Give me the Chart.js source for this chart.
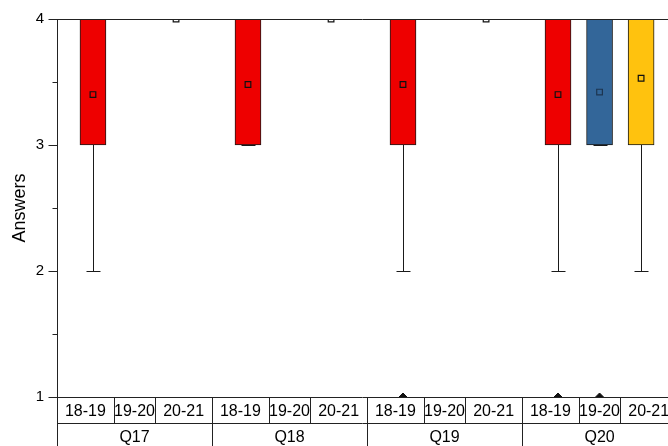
<!DOCTYPE html>
<html>
<head>
<meta charset="utf-8">
<script src="https://cdn.jsdelivr.net/npm/chart.js@4"></script>
<style>
  body { margin: 0; background: #fff; overflow: hidden; }
  #wrap { width: 668px; height: 446px; position: relative; }
</style>
</head>
<body>
<div id="wrap"><canvas id="myChart"></canvas></div>
<script>
// categories
const groups = ["Q17", "Q18", "Q19", "Q20"];
const years = ["18-19", "19-20", "20-21"];

// box stats, one row per year, one value per question (null = no data)
const lowerWhisker = [[2, 3, 2, 2], [null, null, null, 3], [4, 4, 4, 2]];
const q1 = [[3, 3, 3, 3], [null, null, null, 3], [4, 4, 4, 3]];
const median = [[4, 4, 4, 4], [null, null, null, 4], [4, 4, 4, 4]];
const q3 = [[4, 4, 4, 4], [null, null, null, 4], [4, 4, 4, 4]];
const upperWhisker = [[4, 4, 4, 4], [null, null, null, 4], [4, 4, 4, 4]];
const means = [[3.40, 3.48, 3.48, 3.40], [null, null, null, 3.42], [4, 4, 4, 3.53]];
const outliers = [[null, null, 1, 1], [null, null, null, 1], [null, null, null, null]];

// y ticks
const yTicks = [1, 2, 3, 4];
const yMinorTicks = [1.5, 2.5, 3.5];

const colors = ["#ee0000", "#336699", "#ffc20e"];
const spread = 0.268; // distance between boxes inside a group, in group units
const boxWidth = 26;

function xPos(yearIdx, groupIdx) {
  return groupIdx + (yearIdx - 1) * spread;
}

let ctx = document.getElementById("myChart");
let datasets = [];

years.forEach(function (year, yi) {
  let pts = [];
  groups.forEach(function (g, gi) {
    if (q1[yi][gi] !== null) {
      pts.push({ x: xPos(yi, gi), y: [q1[yi][gi], q3[yi][gi]] });
    }
  });
  datasets.push({
    type: "bar",
    label: year,
    data: pts,
    backgroundColor: colors[yi],
    borderColor: "#1a1a1a",
    borderWidth: 1,
    borderSkipped: false,
    barThickness: boxWidth,
    grouped: false,
    order: 2,
  });
});

years.forEach(function (year, yi) {
  let pts = [];
  groups.forEach(function (g, gi) {
    if (means[yi][gi] !== null) pts.push({ x: xPos(yi, gi), y: means[yi][gi] });
  });
  datasets.push({
    type: "scatter",
    label: "mean " + year,
    data: pts,
    pointStyle: "rect",
    pointRadius: 4,
    pointBackgroundColor: "rgba(0,0,0,0)",
    pointBorderColor: yi == 1 ? "#1d3550" : "#111",
    pointBorderWidth: 1.2,
    order: 0,
  });
});

let outPts = [];
years.forEach(function (year, yi) {
  groups.forEach(function (g, gi) {
    if (outliers[yi][gi] !== null) outPts.push({ x: xPos(yi, gi), y: outliers[yi][gi] });
  });
});
datasets.push({
  type: "scatter",
  label: "outliers",
  data: outPts,
  pointStyle: "rectRot",
  pointRadius: 4,
  pointBackgroundColor: "#111",
  pointBorderColor: "#111",
  pointBorderWidth: 1,
  clip: 0,
  order: 0,
});

// whiskers and medians, drawn through the scales
const whiskerPlugin = {
  id: "whiskers",
  beforeDatasetsDraw(chart) {
    const c = chart.ctx;
    const xs = chart.scales.x;
    const ys = chart.scales.y;
    c.save();
    c.strokeStyle = "#1a1a1a";
    c.lineWidth = 1;
    years.forEach(function (year, yi) {
      groups.forEach(function (g, gi) {
        if (q1[yi][gi] === null) return;
        const px = Math.round(xs.getPixelForValue(xPos(yi, gi))) + 0.5;
        const yLo = Math.round(ys.getPixelForValue(lowerWhisker[yi][gi])) + 0.5;
        const yQ1 = ys.getPixelForValue(q1[yi][gi]);
        const yQ3 = ys.getPixelForValue(q3[yi][gi]);
        const yHi = Math.round(ys.getPixelForValue(upperWhisker[yi][gi])) + 0.5;
        c.beginPath();
        c.moveTo(px, yQ1);
        c.lineTo(px, yLo);
        c.moveTo(px - 7, yLo);
        c.lineTo(px + 7, yLo);
        c.moveTo(px, yQ3);
        c.lineTo(px, yHi);
        c.moveTo(px - 7, yHi);
        c.lineTo(px + 7, yHi);
        c.stroke();
      });
    });
    c.restore();
  },
  afterDatasetsDraw(chart) {
    const c = chart.ctx;
    const xs = chart.scales.x;
    const ys = chart.scales.y;
    c.save();
    c.strokeStyle = "#1a1a1a";
    c.lineWidth = 1;
    years.forEach(function (year, yi) {
      groups.forEach(function (g, gi) {
        if (median[yi][gi] === null) return;
        const px = xs.getPixelForValue(xPos(yi, gi));
        const py = Math.round(ys.getPixelForValue(median[yi][gi])) + 0.5;
        c.beginPath();
        c.moveTo(px - boxWidth / 2, py);
        c.lineTo(px + boxWidth / 2, py);
        c.stroke();
      });
    });
    c.restore();
  },
};

// frame, y ticks and the two-row category table under the plot
const framePlugin = {
  id: "frame",
  afterDraw(chart) {
    const c = chart.ctx;
    const a = chart.chartArea;
    const xs = chart.scales.x;
    const ys = chart.scales.y;
    const h = chart.height;
    const w = chart.width;
    const left = Math.round(a.left) + 0.5;
    const top = Math.round(a.top) + 0.5;
    const bottom = Math.round(a.bottom) + 0.5;
    const row = bottom + 26;
    c.save();
    c.strokeStyle = "#222";
    c.lineWidth = 1;
    c.beginPath();
    // top line
    c.moveTo(a.left, top);
    c.lineTo(w, top);
    // y ticks
    yTicks.forEach(function (v) {
      const py = Math.round(ys.getPixelForValue(v)) + 0.5;
      c.moveTo(left - 9, py);
      c.lineTo(left, py);
    });
    yMinorTicks.forEach(function (v) {
      const py = Math.round(ys.getPixelForValue(v)) + 0.5;
      c.moveTo(left - 5, py);
      c.lineTo(left, py);
    });
    // table lines
    c.moveTo(a.left, bottom);
    c.lineTo(w, bottom);
    c.moveTo(a.left, row);
    c.lineTo(w, row);
    c.moveTo(left, bottom);
    c.lineTo(left, h);
    groups.forEach(function (g, gi) {
      const gx = Math.round(xs.getPixelForValue(gi + 0.5)) + 0.5;
      c.moveTo(gx, bottom);
      c.lineTo(gx, h);
      [-0.5, 0.5].forEach(function (k) {
        const ix = Math.round(xs.getPixelForValue(gi + k * spread)) + 0.5;
        c.moveTo(ix, bottom);
        c.lineTo(ix, row);
      });
    });
    c.stroke();

    c.fillStyle = "#000";
    c.font = "16px 'Liberation Sans', Arial, sans-serif";
    c.textAlign = "center";
    c.textBaseline = "middle";
    groups.forEach(function (g, gi) {
      years.forEach(function (year, yi) {
        const lo = yi == 0 ? gi - 0.5 : gi + (yi - 1.5) * spread;
        const hi = yi == 2 ? gi + 0.5 : gi + (yi - 0.5) * spread;
        const cx = (xs.getPixelForValue(lo) + xs.getPixelForValue(hi)) / 2;
        c.fillText(year, cx, bottom + 14);
      });
      c.fillText(g, xs.getPixelForValue(gi), bottom + 40);
    });
    c.restore();
  },
};

let myChart = new Chart(ctx, {
  type: "bar",
  data: { datasets: datasets },
  plugins: [whiskerPlugin, framePlugin],
  options: {
    responsive: true,
    maintainAspectRatio: false,
    animation: false,
    layout: { padding: { top: 19, right: 0, bottom: 49, left: 0 } },
    plugins: {
      legend: { display: false },
      tooltip: { enabled: false },
    },
    scales: {
      x: {
        type: "linear",
        display: false,
        offset: false,
        min: -0.5,
        max: 3.408,
      },
      y: {
        min: 1,
        max: 4,
        afterFit: function (scale) {
          scale.width = 57;
        },
        afterBuildTicks: function (scale) {
          scale.ticks = yTicks.map((v) => ({ value: v }));
        },
        border: { display: true, color: "#222", width: 1 },
        grid: {
          display: true,
          drawOnChartArea: false,
          color: "rgba(0,0,0,0)",
          tickLength: 9,
        },
        ticks: {
          padding: 4,
          color: "#000",
          font: { family: "'Liberation Sans', Arial, sans-serif", size: 15 },
        },
        title: {
          display: true,
          text: "Answers",
          color: "#000",
          padding: { top: 9 },
          font: { family: "'Liberation Sans', Arial, sans-serif", size: 18 },
        },
      },
    },
  },
});
</script>
</body>
</html>
